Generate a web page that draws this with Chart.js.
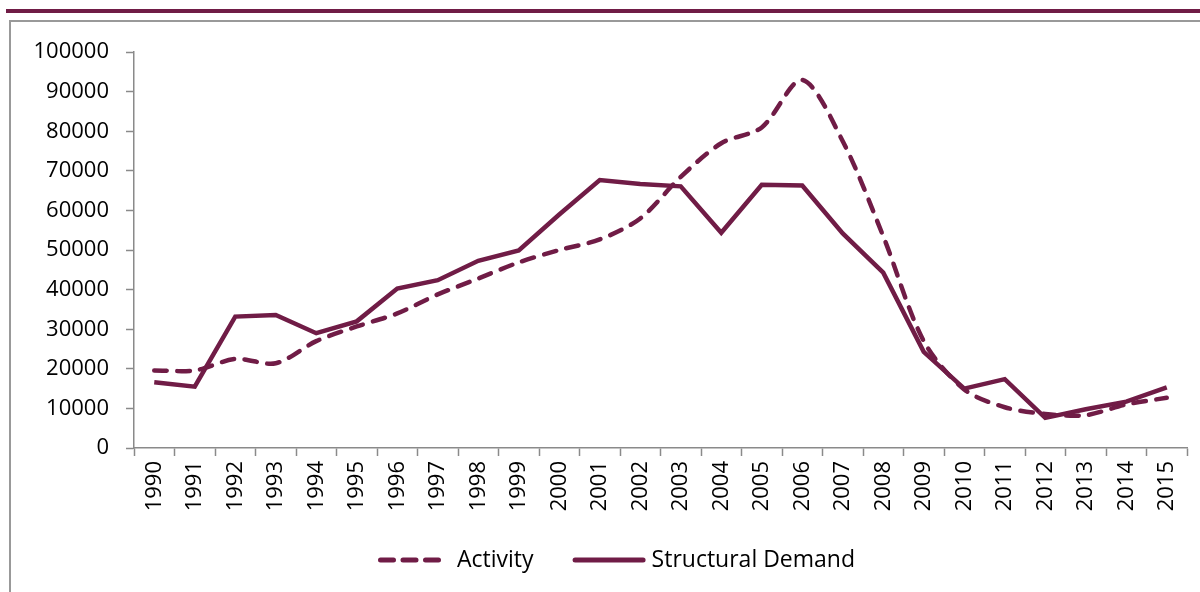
<!DOCTYPE html>
<html>
<head>
<meta charset="utf-8">
<script src="https://cdn.jsdelivr.net/npm/chart.js@4/dist/chart.umd.min.js"></script>
<style>
  html, body { margin: 0; padding: 0; background: #fff; overflow: hidden; }
  body { width: 1200px; height: 592px; position: relative; }
  .topline { position: absolute; left: 6px; top: 9px; width: 1194px; height: 4px; background: #701c46; }
  .frame { position: absolute; left: 9px; top: 20px; width: 1200px; height: 600px;
           border-left: 2px solid #999; border-top: 2px solid #999; box-sizing: border-box; }
  #chart { position: absolute; left: 11px; top: 22px; }
</style>
</head>
<body>
<div class="topline"></div>
<div class="frame"></div>
<canvas id="chart" width="1189" height="570"></canvas>
<script>
const years = ["1990", "1991", "1992", "1993", "1994", "1995", "1996", "1997", "1998", "1999",
  "2000", "2001", "2002", "2003", "2004", "2005", "2006", "2007", "2008", "2009",
  "2010", "2011", "2012", "2013", "2014", "2015"];

const activity = [19600, 19600, 22500, 21400, 27000, 30700, 34000, 38800, 42800, 46900,
  50000, 52700, 58000, 68500, 77000, 81000, 93000, 77500, 53500, 27000,
  14800, 10300, 8600, 8300, 11000, 12700];

const structuralDemand = [16600, 15500, 33200, 33600, 29000, 32000, 40300, 42400, 47300, 49900,
  59000, 67700, 66700, 66100, 54400, 66500, 66300, 54200, 44300, 24300,
  15000, 17400, 7600, 9800, 11700, 15300];

const maroon = "#701c46";
const axisGray = "#8a8a8a";
const tickFont = { family: "'Open Sans'", size: 22 };

// legend drawn by hand so the spacing follows the original
const bottomLegend = {
  id: "bottomLegend",
  afterDraw(chart) {
    const ctx = chart.ctx;
    const y = 538;
    let x = 367;
    ctx.save();
    ctx.font = "23px 'Open Sans'";
    ctx.textBaseline = "middle";
    ctx.fillStyle = "#000";
    chart.data.datasets.forEach((ds, i) => {
      const len = i === 0 ? 58 : 68;
      ctx.strokeStyle = ds.borderColor;
      ctx.lineWidth = 5;
      ctx.lineCap = "round";
      ctx.setLineDash(ds.borderDash ? [13, 9.5] : []);
      ctx.beginPath();
      ctx.moveTo(x + 2.5, y);
      ctx.lineTo(x + 2.5 + len, y);
      ctx.stroke();
      x += len + 5 + (i === 0 ? 16 : 6);
      ctx.fillText(ds.label, x, y);
      x += ctx.measureText(ds.label).width + 39;
    });
    ctx.restore();
  },
};

new Chart(document.getElementById("chart"), {
  type: "line",
  data: {
    labels: years,
    datasets: [
      {
        label: "Activity",
        data: activity,
        borderColor: maroon,
        backgroundColor: maroon,
        borderWidth: 4.5,
        borderDash: [12.5, 10.5],
        borderCapStyle: "round",
        tension: 0.3,
        pointRadius: 0,
        fill: false,
      },
      {
        label: "Structural Demand",
        data: structuralDemand,
        borderColor: maroon,
        backgroundColor: maroon,
        borderWidth: 4.5,
        borderCapStyle: "butt",
        borderJoinStyle: "miter",
        tension: 0,
        pointRadius: 0,
        fill: false,
      },
    ],
  },
  plugins: [bottomLegend],
  options: {
    responsive: false,
    animation: false,
    layout: { padding: { left: 0, right: 13, top: 28, bottom: 54 } },
    plugins: {
      legend: { display: false },
      tooltip: { enabled: false },
    },
    scales: {
      x: {
        offset: true,
        afterFit: (scale) => { scale.height = 90; },
        grid: {
          offset: true,
          drawOnChartArea: false,
          drawTicks: true,
          tickLength: 8,
          tickWidth: 1.5,
          tickColor: axisGray,
        },
        border: { color: axisGray, width: 1.5 },
        ticks: {
          autoSkip: false,
          minRotation: 90,
          maxRotation: 90,
          padding: 5,
          color: "#000",
          font: tickFont,
        },
      },
      y: {
        min: 0,
        max: 100000,
        afterFit: (scale) => { scale.width = 123; },
        grid: {
          drawOnChartArea: false,
          drawTicks: true,
          tickLength: 8,
          tickWidth: 1.5,
          tickColor: axisGray,
        },
        border: { color: axisGray, width: 1.5 },
        ticks: {
          stepSize: 10000,
          padding: 17,
          color: "#000",
          font: tickFont,
          callback: (v) => String(v),
        },
      },
    },
  },
});
</script>
</body>
</html>
